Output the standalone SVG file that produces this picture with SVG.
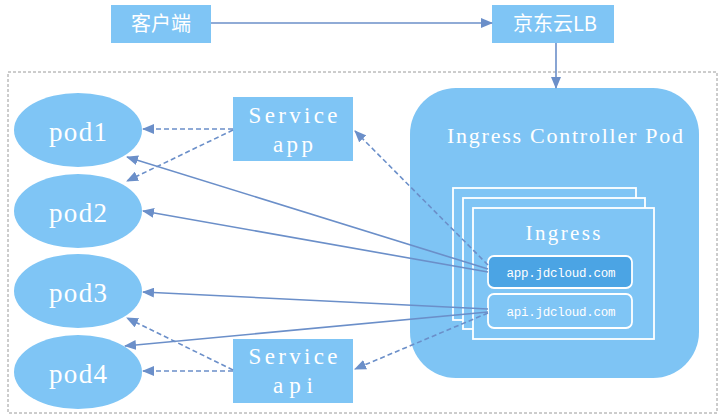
<svg xmlns="http://www.w3.org/2000/svg" width="720" height="418" viewBox="0 0 720 418">
<defs>
<marker id="ah" markerUnits="userSpaceOnUse" markerWidth="12" markerHeight="10" refX="11" refY="5" orient="auto">
<path d="M0,0 L12,5 L0,10 Z" fill="#6b8fc9"/>
</marker>
<style>
.box{fill:#7fc5f5;}
.pod{fill:#7fc5f5;}
.lbl{fill:#ffffff;font-family:"Liberation Serif",serif;}
.cjk{fill:#ffffff;font-family:"Noto Sans CJK SC",sans-serif;font-size:20px;}
.mono{fill:#ffffff;font-family:"Liberation Mono",monospace;font-size:12.5px;}
.solid{stroke:#6b8fc9;stroke-width:1.6;fill:none;marker-end:url(#ah);}
.dash{stroke:#6b8fc9;stroke-width:1.6;fill:none;stroke-dasharray:5,3;marker-end:url(#ah);}
.ing{fill:#7fc5f5;stroke:#ffffff;stroke-width:1.8;}
</style>
</defs>
<rect width="720" height="418" fill="#ffffff"/>
<rect x="8" y="72" width="709" height="341" fill="none" stroke="#9a9a9a" stroke-width="1" stroke-dasharray="3,2"/>

<g id="client">
<rect class="box" x="111" y="5" width="100" height="38"/>
<text class="cjk" x="161" y="31" text-anchor="middle">客户端</text>
</g>
<g id="lb">
<rect class="box" x="492" y="5" width="122" height="38"/>
<text class="cjk" x="555" y="31" text-anchor="middle">京东云LB</text>
</g>

<g id="ingress-controller">
<rect x="410" y="88" width="289" height="290" rx="46" ry="46" fill="#7ec4f4"/>
<text class="lbl" x="565" y="143" text-anchor="middle" font-size="22" textLength="236" lengthAdjust="spacing">Ingress Controller Pod</text>
<rect class="ing" x="453" y="188" width="183" height="132"/>
<rect class="ing" x="463" y="198" width="182" height="131"/>
<rect class="ing" x="473" y="208" width="181" height="131"/>
<text class="lbl" x="563" y="240" text-anchor="middle" font-size="21" textLength="75" lengthAdjust="spacing">Ingress</text>
</g>
<g id="app-host">
<rect x="488" y="256" width="144" height="32" rx="6" fill="#4ba4e4" stroke="#ffffff" stroke-width="1.8"/>
<text class="mono" x="561" y="277" text-anchor="middle" textLength="109" lengthAdjust="spacing">app.jdcloud.com</text>
</g>
<g id="api-host">
<rect x="488" y="294" width="144" height="34" rx="6" fill="#7fc5f5" stroke="#ffffff" stroke-width="1.8"/>
<text class="mono" x="561" y="316" text-anchor="middle" textLength="109" lengthAdjust="spacing">api.jdcloud.com</text>
</g>

<g id="pod1">
<ellipse class="pod" cx="78" cy="130" rx="64" ry="37"/>
<text class="lbl" x="78" y="141" text-anchor="middle" font-size="27" textLength="58" lengthAdjust="spacing">pod1</text>
</g>
<g id="pod2">
<ellipse class="pod" cx="78" cy="211" rx="64" ry="37"/>
<text class="lbl" x="78" y="222" text-anchor="middle" font-size="27" textLength="58" lengthAdjust="spacing">pod2</text>
</g>
<g id="pod3">
<ellipse class="pod" cx="78" cy="291" rx="64" ry="37"/>
<text class="lbl" x="78" y="302" text-anchor="middle" font-size="27" textLength="58" lengthAdjust="spacing">pod3</text>
</g>
<g id="pod4">
<ellipse class="pod" cx="78" cy="372" rx="64" ry="37"/>
<text class="lbl" x="78" y="383" text-anchor="middle" font-size="27" textLength="58" lengthAdjust="spacing">pod4</text>
</g>

<g id="service-app">
<rect class="box" x="233" y="97" width="120" height="64"/>
<text class="lbl" x="293" y="123" text-anchor="middle" font-size="23" textLength="89" lengthAdjust="spacing">Service</text>
<text class="lbl" x="293" y="152" text-anchor="middle" font-size="23" textLength="40" lengthAdjust="spacing">app</text>
</g>
<g id="service-api">
<rect class="box" x="233" y="339" width="120" height="64"/>
<text class="lbl" x="293" y="364" text-anchor="middle" font-size="23" textLength="89" lengthAdjust="spacing">Service</text>
<text class="lbl" x="293" y="393" text-anchor="middle" font-size="23" textLength="40" lengthAdjust="spacing">api</text>
</g>

<g id="connectors">
<line class="solid" x1="211" y1="23" x2="492" y2="23"/>
<line class="solid" x1="556" y1="43" x2="556" y2="88"/>
<line class="solid" x1="488" y1="269" x2="127" y2="157"/>
<line class="solid" x1="488" y1="272" x2="143" y2="211"/>
<line class="solid" x1="488" y1="309" x2="143" y2="292"/>
<line class="solid" x1="488" y1="312" x2="125" y2="346"/>
<line class="dash" x1="488" y1="265" x2="355" y2="131"/>
<line class="dash" x1="488" y1="313" x2="355" y2="369"/>
<line class="dash" x1="233" y1="129" x2="143" y2="129"/>
<line class="dash" x1="233" y1="130" x2="127" y2="181"/>
<line class="dash" x1="233" y1="371" x2="143" y2="371"/>
<line class="dash" x1="233" y1="370" x2="127" y2="318"/>
</g>
</svg>
